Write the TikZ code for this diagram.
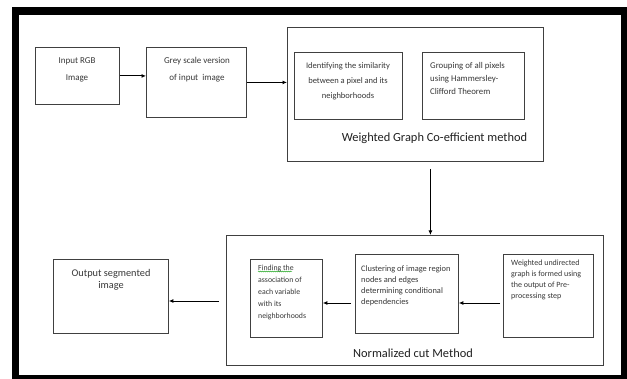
\documentclass[tikz,border=0pt]{standalone}
\usepackage{fontspec}
\setmainfont{Carlito}
\usetikzlibrary{arrows.meta,decorations.pathmorphing}
\definecolor{boxline}{HTML}{404040}
\definecolor{txt}{HTML}{383838}
\definecolor{lbl}{HTML}{202020}
\tikzset{
  box/.style={draw=boxline, line width=0.8pt, inner sep=0pt, anchor=north west, fill=white},
  arr/.style={draw=black, line width=0.9pt, -{Latex[length=4.5pt,width=4pt]}},
  ctext/.style={inner sep=0pt, align=center, anchor=north, text=txt},
  ltext/.style={inner sep=0pt, align=left, anchor=north west, text=txt},
  biglabel/.style={inner sep=0pt, text=lbl, font=\fontsize{12.4}{14}\selectfont},
}
\begin{document}
\begin{tikzpicture}[x=1pt,y=-1pt]
\useasboundingbox (0,0) rectangle (627,379);
\clip (0,0) rectangle (627,379);
\fill[white] (0,0) rectangle (627,379);
% outer frame
\draw[line width=7.5pt] (15.5,11) rectangle (624.5,378.5);

% top row
\node[box, minimum width=84pt, minimum height=57pt] (in) at (35,47) {};
\node[ctext, font=\fontsize{9}{17}\selectfont] (intext) at (77,57) {Input RGB\\Image};

\node[box, minimum width=100pt, minimum height=70pt] (grey) at (146,47) {};
\node[ctext, font=\fontsize{9}{17}\selectfont] (greytext) at (197,57) {Grey scale version\\of input\ \ image};

\node[box, minimum width=256pt, minimum height=134pt] (wg) at (287,27) {};
\node[box, minimum width=108pt, minimum height=67pt] (sim) at (294,52) {};
\node[ctext, font=\fontsize{8.5}{15}\selectfont] (simtext) at (348,62) {Identifying the similarity\\between a pixel and its\\neighborhoods};
\node[box, minimum width=102pt, minimum height=67pt] (grp) at (422,52) {};
\node[ltext, font=\fontsize{8.8}{13}\selectfont] (grptext) at (430,61.8) {Grouping of all pixels\\using Hammersley-\\Clifford Theorem};
\node[biglabel] (wglabel) at (434.5,138) {Weighted Graph Co-efficient method};

% bottom row
\node[box, minimum width=377pt, minimum height=130pt] (nc) at (226,235) {};
\node[box, minimum width=72pt, minimum height=78pt] (find) at (250,259) {};
\node[ltext, font=\fontsize{7.8}{12}\selectfont] (findtext) at (258,265.3) {Finding the\\association of\\each variable\\with its\\neighborhoods};
\draw[green!60!black, line width=0.4pt, decorate, decoration={snake, amplitude=0.5pt, segment length=2pt}] (258,271.5) -- (292,271.5);
\node[box, minimum width=103pt, minimum height=79pt] (clu) at (355,254) {};
\node[ltext, font=\fontsize{8.4}{11}\selectfont] (clutext) at (361,265) {Clustering of image region\\nodes and edges\\determining conditional\\dependencies};
\node[box, minimum width=90pt, minimum height=83pt] (wu) at (503,254) {};
\node[ltext, font=\fontsize{8}{10.7}\selectfont] (wutext) at (511,260.2) {Weighted undirected\\graph is formed using\\the output of Pre-\\processing step};
\node[biglabel] (nclabel) at (413,353) {Normalized cut Method};

\node[box, minimum width=115pt, minimum height=74pt] (out) at (53,259) {};
\node[ctext, font=\fontsize{10.3}{12}\selectfont] (outtext) at (111,269.4) {Output segmented\\image};

% connectors
\coordinate (ly) at (0,303);
\coordinate (ly2) at (0,301);
\draw[arr] (in.east) -- (in.east -| grey.west);
\draw[arr] (grey.east) -- (grey.east -| wg.west);
\draw[arr] ([xshift=15pt,yshift=-7pt]wg.south) -- ([xshift=15pt]wg.south |- nc.north);
\draw[arr] ([xshift=-3pt]wu.west |- ly) -- (clu.east |- ly);
\draw[arr] ([xshift=-4pt]clu.west |- ly) -- (find.east |- ly);
\draw[arr] ([xshift=-7pt]nc.west |- ly2) -- (out.east |- ly2);
\end{tikzpicture}
\end{document}
